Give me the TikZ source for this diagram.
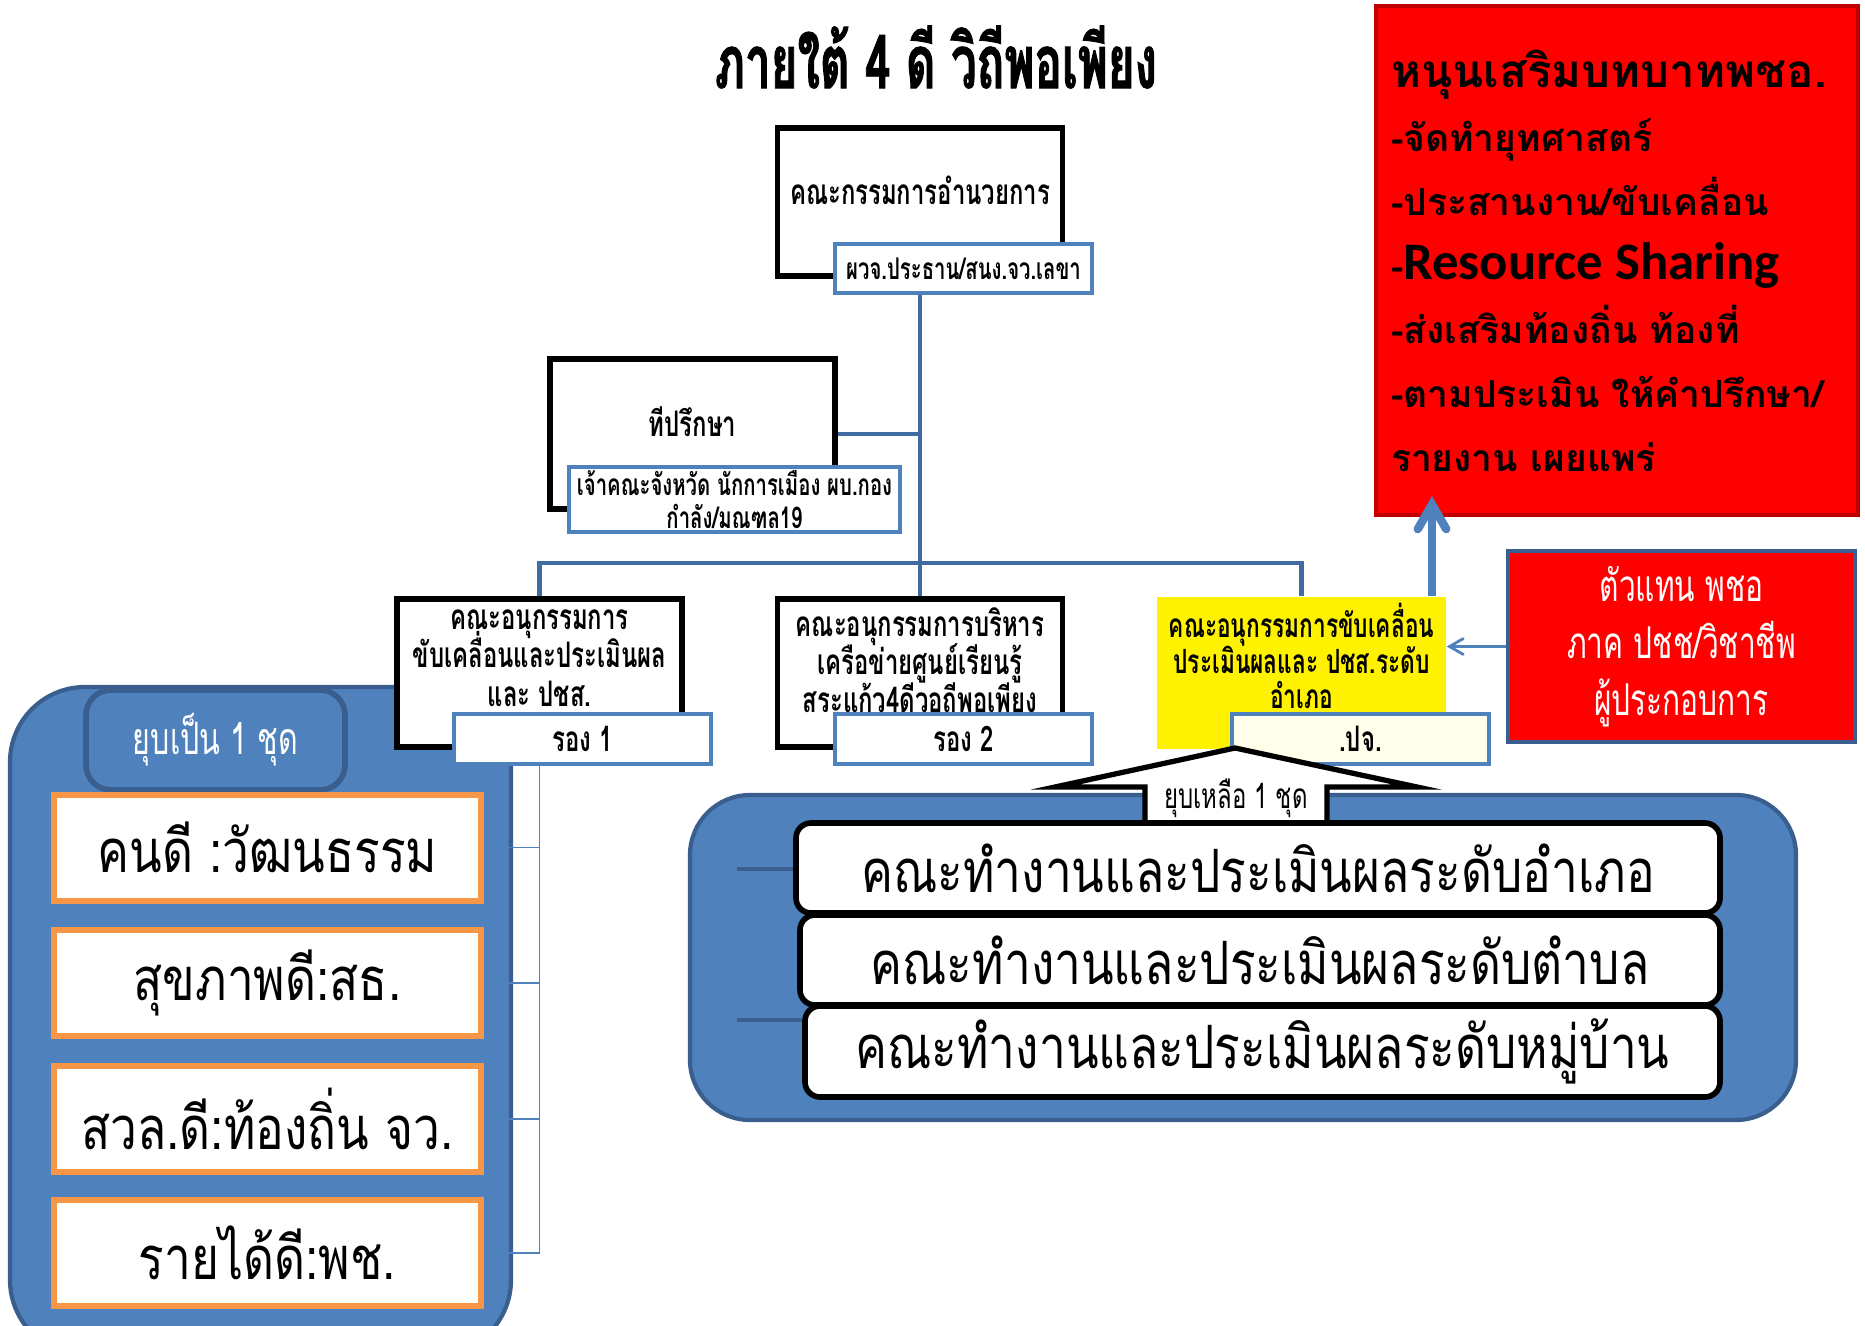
\documentclass[tikz,border=0pt]{standalone}
\usepackage{fontspec}
\usepackage{tikz}
\usetikzlibrary{shapes}
\usetikzlibrary{arrows}
\newfontfamily\thaifont[Script=Thai]{Loma}
\newfontfamily\thaicond[Script=Thai,FakeStretch=0.68]{Loma}
\newfontfamily\thaititle[Script=Thai,FakeStretch=0.62,FakeBold=1.2]{Loma}
\newfontfamily\thaithin[Script=Thai,FakeStretch=0.8]{Loma}
\newfontfamily\latinbold{Carlito}
\newcommand\tightlines{\lineskiplimit=-100pt\relax}
\definecolor{panelblue}{RGB}{79,129,189}
\definecolor{paneledge}{RGB}{58,95,142}
\definecolor{trunkblue}{RGB}{65,108,163}
\definecolor{labblue}{RGB}{79,129,189}
\definecolor{orangeedge}{RGB}{247,150,70}
\definecolor{darkred}{RGB}{192,0,0}
\definecolor{paleyellow}{RGB}{255,255,236}
\tikzset{
	orgnode/.style = {align=center, inner sep=0pt, text centered},
	title_txt/.style = {orgnode, font=\thaititle\bfseries\fontsize{21}{24}\selectfont},
	org_box/.style = {orgnode, rectangle, draw=black, fill=white, line width=1.5pt,
		minimum width=2.85cm, minimum height=1.48cm},% กล่องคณะกรรมการ
	org_txt/.style = {orgnode,
		font=\thaicond\bfseries\fontsize{10}{10.9}\selectfont\tightlines},
	org_lab/.style = {orgnode, rectangle, draw=labblue, fill=white, line width=1.1pt,
		minimum width=2.57cm, minimum height=0.5cm,
		font=\thaicond\bfseries\fontsize{10}{11}\selectfont},% ป้ายตำแหน่ง
	sub_box/.style = {orgnode, rectangle, fill=yellow,
		minimum width=2.89cm, minimum height=1.52cm},% กล่องเหลือง
	red_box/.style = {orgnode, rectangle, fill=red, draw=darkred, line width=1.2pt,
		minimum width=4.82cm, minimum height=5.09cm, text width=4.52cm,
		align=left, inner xsep=0.15cm},
	rep_box/.style = {orgnode, rectangle, fill=red, draw=paneledge, line width=1.2pt,
		minimum width=3.47cm, minimum height=1.91cm, text=white,
		font=\thaicond\fontsize{12.5}{16.2}\selectfont\tightlines},
	panel/.style = {fill=panelblue, draw=paneledge, line width=1.2pt},
	group_tag/.style = {orgnode, rectangle, rounded corners=0.25cm, fill=panelblue,
		draw=paneledge, line width=1.6pt, minimum width=2.59cm, minimum height=1.0cm,
		text=white, font=\thaicond\fontsize{12.7}{14}\selectfont},
	good_box/.style = {orgnode, rectangle, fill=white, draw=orangeedge, line width=1.7pt,
		minimum width=4.27cm, minimum height=1.06cm,
		font=\thaithin\fontsize{17}{20}\selectfont},% สี่ดี
	work_box/.style = {orgnode, rectangle, rounded corners=0.15cm, fill=white,
		draw=black, line width=1.6pt, minimum height=0.90cm,
		font=\thaithin\fontsize{17}{20}\selectfont},% คณะทำงาน
	trunk/.style = {draw=trunkblue, line width=1.2pt},
	thin_link/.style = {draw=labblue, line width=0.5pt},
	stub/.style = {draw=paneledge, line width=0.9pt},
	block_arrow/.style = {fill=white, draw=black, line width=1.5pt, line join=miter},
	shrink_txt/.style = {orgnode, font=\thaicond\fontsize{10}{12}\selectfont}
}
\begin{document}
\begin{tikzpicture}[>=angle 60]
	\useasboundingbox (0,0) rectangle (18.65,-13.25);
	\node [title_txt] (title) at (9.36,-0.57) {ภายใต้ 4 ดี วิถีพอเพียง};

	% กลุ่มซ้าย
	\draw [panel, rounded corners=0.75cm] (0.10,-6.87) rectangle (5.11,-13.55);
	\node [group_tag] (tag_left) at (2.155,-7.40) {ยุบเป็น 1 ชุด};
	\node [good_box] (good1) at (2.675,-8.475) {คนดี :วัฒนธรรม};
	\node [good_box] (good2) at (2.675,-9.83) {สุขภาพดี:สธ.};
	\node [good_box] (good3) at (2.675,-11.19) {สวล.ดี:ท้องถิ่น จว.};
	\node [good_box] (good4) at (2.675,-12.53) {รายได้ดี:พช.};

	% คณะกรรมการ
	\node [org_box] (dir) at (9.20,-2.02) {};
	\node [org_txt] (dir_t) at (9.20,-1.90) {คณะกรรมการอำนวยการ};
	\node [org_lab, minimum width=2.57cm, minimum height=0.49cm,
		font=\thaicond\bfseries\fontsize{8.5}{10}\selectfont] (dir_lab) at (9.635,-2.685)
		{ผวจ.ประธาน/สนง.จว.เลขา};
	\node [org_box, minimum height=1.50cm] (adv) at (6.925,-4.34) {};
	\node [org_txt] (adv_t) at (6.925,-4.22) {ทีปรึกษา};
	\node [org_lab, minimum width=3.31cm, minimum height=0.65cm,
		font=\thaicond\bfseries\fontsize{8.5}{9.2}\selectfont\tightlines]
		(adv_lab) at (7.345,-4.995) {เจ้าคณะจังหวัด นักการเมือง ผบ.กอง\\กำลัง/มณฑล19};
	\node [org_box] (box1) at (5.395,-6.73) {};
	\node [org_txt] (box1_t) at (5.395,-6.58) {คณะอนุกรรมการ\\ขับเคลื่อนและประเมินผล\\และ ปชส.};
	\node [org_lab] (lab1) at (5.825,-7.39) {รอง 1};
	\node [org_box] (box2) at (9.20,-6.73) {};
	\node [org_txt] (box2_t) at (9.20,-6.60) {คณะอนุกรรมการบริหาร\\เครือข่ายศูนย์เรียนรู้\\สระแก้ว4ดีวอถีพอเพียง};
	\node [org_lab] (lab2) at (9.635,-7.39) {รอง 2};
	\node [sub_box] (box3) at (13.015,-6.73) {};
	\node [org_txt, font=\thaicond\bfseries\fontsize{9.5}{10.1}\selectfont\tightlines]
		(box3_t) at (13.015,-6.56) {คณะอนุกรรมการขับเคลื่อน\\ประเมินผลและ ปชส.ระดับ\\อำเภอ};
	\node [org_lab, fill=paleyellow] (lab3) at (13.605,-7.39) {.ปจ.};

	\draw [trunk] (dir_lab.south -| dir.south) -- (box2.north);
	\draw [trunk] (adv.east) -- (adv.east -| dir.south);
	\draw [trunk] (box1.north) -- ++(0,0.33) -| (box3.north);
	\draw [thin_link] (lab1.south -| box1.south) -- (good4.east -| box1.south) -- (good4.east);
	\draw [thin_link] (good1.east) -- (good1.east -| box1.south);
	\draw [thin_link] (good2.east) -- (good2.east -| box1.south);
	\draw [thin_link] (good3.east) -- (good3.east -| box1.south);

	% กล่องแดง
	\node [red_box, font=\thaifont\bfseries\fontsize{10.6}{18.2}\selectfont] (red1) at (16.17,-2.605)
		{{\fontsize{13}{18.2}\selectfont หนุนเสริมบทบาทพชอ.}\\
		-จัดทำยุทศาสตร์\\
		-ประสานงาน/ขับเคลื่อน\\
		-{\latinbold\bfseries\fontsize{15}{18.2}\selectfont Resource Sharing}\\
		-ส่งเสริมท้องถิ่น ท้องที่\\
		-ตามประเมิน ให้คำปรึกษา/\\
		รายงาน เผยแพร่};
	\node [rep_box] (red2) at (16.815,-6.465) {ตัวแทน พชอ\\ภาค ปชช/วิชาชีพ\\ผู้ประกอบการ};
	\coordinate (red1_in) at (14.32,-4.96);
	\draw [->, draw=labblue, line width=2.4pt] (red1_in |- box3.north) -- (red1_in);
	\draw [->, draw=labblue, line width=0.8pt] (red2.west) -- (red2.west -| box3.east);

	% กลุ่มขวา
	\draw [panel, rounded corners=0.6cm] (6.90,-7.95) rectangle (17.96,-11.20);
	\coordinate (stub1) at (7.37,-8.69);
	\coordinate (stub2) at (7.37,-10.20);
	\draw [block_arrow] (12.35,-7.48) -- (14.17,-7.87) -- (13.27,-7.87) -- (13.27,-8.25)
		-- (11.45,-8.25) -- (11.45,-7.87) -- (10.55,-7.87) -- cycle;
	\node [shrink_txt] (shrink) at (12.36,-7.98) {ยุบเหลือ 1 ชุด};
	\node [work_box, minimum width=9.24cm] (wb1) at (12.58,-8.68) {คณะทำงานและประเมินผลระดับอำเภอ};
	\node [work_box, minimum width=9.20cm] (wb2) at (12.60,-9.60) {คณะทำงานและประเมินผลระดับตำบล};
	\node [work_box, minimum width=9.15cm, minimum height=0.91cm] (wb3) at (12.625,-10.515)
		{คณะทำงานและประเมินผลระดับหมู่บ้าน};
	\draw [stub] (stub1) -- (stub1 -| wb1.west);
	\draw [stub] (stub2) -- (stub2 -| wb3.west);
\end{tikzpicture}
\end{document}
